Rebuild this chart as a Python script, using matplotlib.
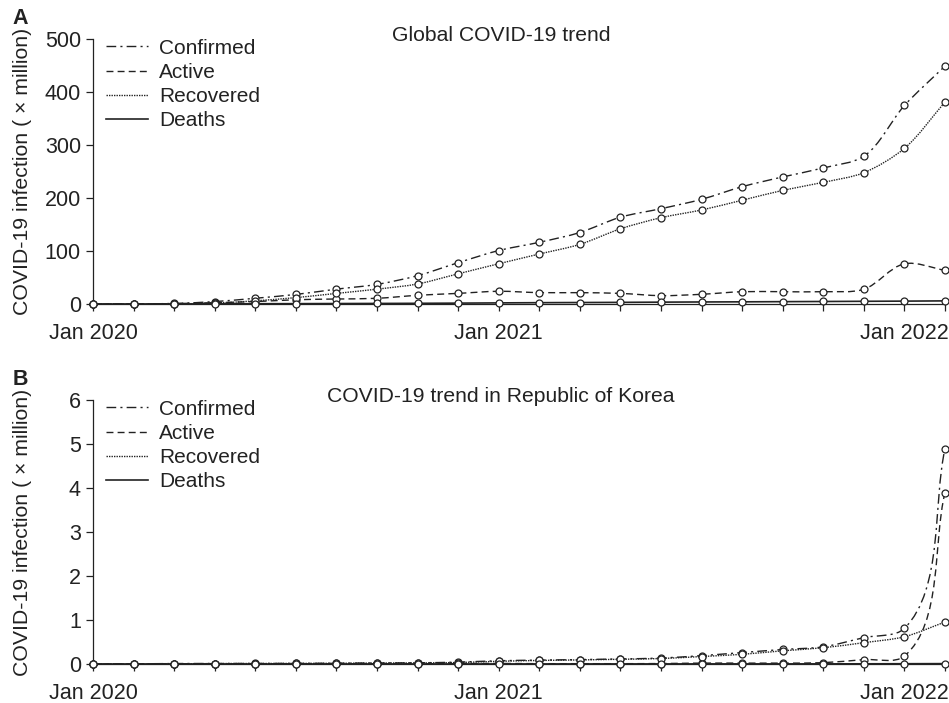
import numpy as np
import matplotlib.pyplot as plt
from matplotlib.path import Path
from matplotlib.patches import PathPatch
from matplotlib.lines import Line2D

plt.rcParams['font.family'] = ['Liberation Sans', 'DejaVu Sans']

# sample points, roughly every 5 weeks from Jan 2020 to Feb 2022 (values in millions)
tick_labels = {0: "Jan 2020", 10: "Jan 2021", 20: "Jan 2022"}

glob_confirmed = [0, 0.1, 1.0, 4.5, 10.8, 18, 28, 37, 53.5, 78, 101, 116.5, 135,
                  164, 180, 197.7, 221.6, 240, 257, 279, 375, 449.5]
glob_active = [0, 0.05, 0.7, 2.5, 4.5, 8, 9.4, 10.7, 16.4, 20, 24, 21.4, 21.4,
               20, 15.7, 18.3, 23.2, 23.2, 23.2, 27.7, 76, 63.6]
glob_recovered = [0, 0.03, 0.25, 1.6, 6, 12, 20, 28, 37.8, 57, 76, 94.4, 112.6,
                  142, 163, 177.6, 196, 214.6, 229.8, 248, 294, 381.6]
glob_deaths = [0, 0.003, 0.05, 0.28, 0.45, 0.6, 0.8, 1.0, 1.25, 1.6, 2.05, 2.45, 2.75,
               3.05, 3.45, 3.8, 4.05, 4.4, 4.7, 5.05, 5.4, 5.85]

kor_confirmed = [0, 0.003, 0.01, 0.011, 0.012, 0.014, 0.018, 0.024, 0.027, 0.042, 0.074,
                 0.088, 0.1, 0.115, 0.135, 0.19, 0.26, 0.33, 0.39, 0.6, 0.81, 4.9]
kor_active = [0, 0.002, 0.008, 0.001, 0.001, 0.001, 0.002, 0.002, 0.002, 0.009, 0.012,
              0.007, 0.007, 0.007, 0.01, 0.02, 0.02, 0.02, 0.03, 0.1, 0.18, 3.9]
kor_recovered = [0, 0.001, 0.002, 0.01, 0.011, 0.013, 0.016, 0.022, 0.025, 0.033, 0.061,
                 0.08, 0.092, 0.107, 0.124, 0.17, 0.22, 0.3, 0.37, 0.485, 0.62, 0.955]
kor_deaths = [0, 0, 0.0001, 0.0003, 0.0003, 0.0003, 0.0003, 0.0004, 0.0004, 0.0006, 0.0013,
              0.0016, 0.0017, 0.0018, 0.002, 0.002, 0.0023, 0.0025, 0.0027, 0.004, 0.006, 0.008]

COL = '#222222'
styles = {
    "Confirmed": dict(linestyle=(0, (7, 3, 1.5, 3)), linewidth=1.0),
    "Active": dict(linestyle=(0, (5, 3)), linewidth=1.0),
    "Recovered": dict(linestyle=(0, (1, 0.8)), linewidth=1.0),
    "Deaths": dict(linestyle='-', linewidth=1.2),
}


def smooth_path(x, y, sx, sy, t=0.3):
    # smoothed Bezier curve through the points, built in pixel-aspect space
    px = np.asarray(x, float) * sx
    py = np.asarray(y, float) * sy
    P = np.column_stack([px, py])
    n = len(P)
    tang = np.zeros_like(P)
    for i in range(n):
        d = np.zeros(2)
        if i > 0:
            v = P[i] - P[i - 1]
            d += v / np.hypot(*v)
        if i < n - 1:
            v = P[i + 1] - P[i]
            d += v / np.hypot(*v)
        tang[i] = d / np.hypot(*d)
    verts = [P[0]]
    codes = [Path.MOVETO]
    for i in range(n - 1):
        L = np.hypot(*(P[i + 1] - P[i]))
        verts += [P[i] + tang[i] * L * t, P[i + 1] - tang[i + 1] * L * t, P[i + 1]]
        codes += [Path.CURVE4] * 3
    verts = np.array(verts) / [sx, sy]
    return Path(verts, codes)


def panel(ax, series, ymax, yticks, title, letter):
    x = np.arange(len(series["Confirmed"]))
    ax.set_xlim(0, len(x) - 1)
    ax.set_ylim(0, ymax)
    pos = ax.get_position()
    W, H = fig.get_size_inches() * fig.dpi
    sx = pos.width * W / (len(x) - 1)
    sy = pos.height * H / ymax
    for name, vals in series.items():
        st = styles[name]
        ax.add_patch(PathPatch(smooth_path(x, vals, sx, sy), fill=False, edgecolor=COL,
                               capstyle='butt', clip_on=False, zorder=3, **st))
        ax.plot(x, vals, 'o', ms=5, mfc='white', mec=COL, mew=0.9,
                clip_on=False, zorder=4)
    ax.set_xticks(x)
    ax.set_xticklabels([tick_labels.get(i, "") for i in x])
    ax.set_yticks(yticks)
    ax.tick_params(direction='out', length=4.7, width=0.9, labelsize=15.5,
                   color=COL, labelcolor=COL)
    ax.tick_params(axis='x', pad=9)
    ax.tick_params(axis='y', pad=4)
    for s in ['top', 'right']:
        ax.spines[s].set_visible(False)
    for s in ['left', 'bottom']:
        ax.spines[s].set_linewidth(0.9)
        ax.spines[s].set_color(COL)
    ax.set_ylabel("COVID-19 infection ( \u00d7 million)", fontsize=15.3, color=COL)
    ax.yaxis.set_label_coords(-0.072, 0.5)
    ax.text(0.479, 0.994, title, transform=ax.transAxes, ha='center', va='baseline',
            fontsize=15.2, color=COL)
    ax.text(-0.094, 1.04, letter, transform=ax.transAxes, ha='left', va='bottom',
            fontsize=15.5, fontweight='bold', color=COL)
    handles = [Line2D([], [], color=COL, **styles[n]) for n in series]
    ax.legend(handles, list(series.keys()), loc='upper left', bbox_to_anchor=(0.013, 1.01),
              frameon=False, fontsize=15, handlelength=2.0, handletextpad=0.55,
              labelspacing=0.25, borderaxespad=0, borderpad=0.1, labelcolor=COL)


fig = plt.figure(figsize=(9.49, 7.03), dpi=100)
axA = fig.add_axes([0.098, 0.5676, 0.8978, 0.3765])
axB = fig.add_axes([0.098, 0.0555, 0.8978, 0.3751])

panel(axA, {"Confirmed": glob_confirmed, "Active": glob_active,
            "Recovered": glob_recovered, "Deaths": glob_deaths},
      500, range(0, 501, 100), "Global COVID-19 trend", "A")
panel(axB, {"Confirmed": kor_confirmed, "Active": kor_active,
            "Recovered": kor_recovered, "Deaths": kor_deaths},
      6, range(0, 7), "COVID-19 trend in Republic of Korea", "B")

fig.savefig("out.png", dpi=100)
